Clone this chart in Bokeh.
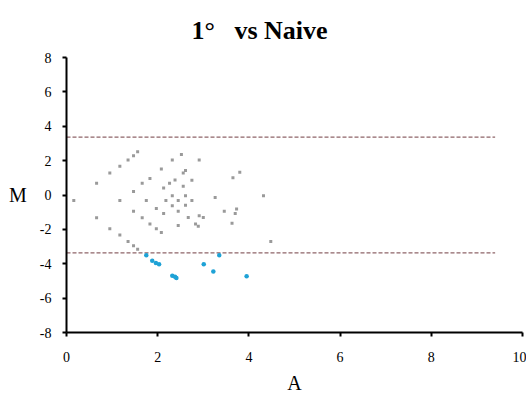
from bokeh.plotting import figure
from bokeh.models import FixedTicker, ColumnDataSource
from bokeh.embed import file_html
from bokeh.resources import INLINE

# Gray (non-significant) points: A, M
gray_A = [0.16, 0.66, 0.66, 0.95, 0.95, 1.17, 1.17, 1.17, 1.35, 1.35, 1.47, 1.47, 1.47, 1.47,
          1.56, 1.56, 1.66, 1.66, 1.75, 1.83, 1.83, 1.97, 1.97, 2.08, 2.08, 2.13, 2.13, 2.18,
          2.26, 2.32, 2.32, 2.32, 2.38, 2.45, 2.45, 2.45, 2.52, 2.56, 2.61, 2.56, 2.61, 2.61,
          2.67, 2.75, 2.75, 2.83, 2.89, 2.91, 2.91, 3.00, 3.26, 3.46, 3.63, 3.65, 3.73, 3.70,
          3.80, 4.32, 4.48]
gray_M = [-0.32, 0.68, -1.33, 1.28, -1.96, 1.67, -0.32, -2.32, 2.03, -2.70, 2.28, 0.20, -0.95, -2.95,
          2.51, -3.15, 0.68, -1.33, -0.32, 0.96, -1.69, -0.78, -1.96, 1.51, -2.18, 0.41, -1.07, -0.32,
          0.68, 2.03, -0.04, -0.62, 0.88, -0.32, -0.95, -1.77, 2.35, 1.28, 1.42, 0.51, -0.04, -0.60,
          -1.31, 0.86, -0.32, -1.69, -1.82, 2.03, -1.21, -1.31, -0.15, -0.95, -1.65, 1.01, -0.82, -1.07,
          1.33, -0.04, -2.70]

# Blue (significant) points
blue_A = [1.75, 1.88, 1.96, 2.03, 2.32, 2.38, 2.41, 3.01, 3.22, 3.35, 3.95]
blue_M = [-3.50, -3.82, -3.95, -4.03, -4.70, -4.75, -4.83, -4.03, -4.45, -3.50, -4.72]

# Threshold lines
thr_A = [0, 9.4]
thr_up = [3.37, 3.37]
thr_dn = [-3.37, -3.37]

x_ticks = [0, 2, 4, 6, 8, 10]
y_ticks = [-8, -6, -4, -2, 0, 2, 4, 6, 8]

SERIF = "Liberation Serif"

p = figure(width=526, height=396, x_range=(0, 10), y_range=(-8, 8),
           output_backend="svg", toolbar_location=None,
           min_border_left=66, min_border_right=4, min_border_top=54, min_border_bottom=63,
           title="1°\u00a0\u00a0\u00a0vs Naive")
p.title.text_font = SERIF
p.title.text_font_size = "26px"
p.title.text_font_style = "bold"
p.title.align = "left"
p.title.offset = 125
p.title.standoff = 26
p.title.text_color = "black"

p.outline_line_color = None
p.background_fill_color = "white"
p.border_fill_color = "white"
p.xgrid.visible = False
p.ygrid.visible = False

for ax in (p.xaxis[0], p.yaxis[0]):
    ax.axis_line_width = 2
    ax.axis_line_color = "black"
    ax.major_tick_line_width = 2
    ax.major_tick_line_color = "black"
    ax.major_tick_out = 4
    ax.major_tick_in = 0
    ax.minor_tick_line_color = None
    ax.major_label_text_font = SERIF
    ax.major_label_text_font_size = "14px"
    ax.major_label_text_color = "black"
    ax.axis_label_text_font = SERIF
    ax.axis_label_text_font_size = "20px"
    ax.axis_label_text_font_style = "normal"
    ax.axis_label_text_color = "black"

p.xaxis[0].ticker = FixedTicker(ticks=x_ticks)
p.yaxis[0].ticker = FixedTicker(ticks=y_ticks)
p.yaxis[0].major_label_overrides = {t: str(t) for t in y_ticks}
p.xaxis[0].axis_label = "A"
p.yaxis[0].axis_label = "M"
p.yaxis[0].axis_label_orientation = "horizontal"
p.xaxis[0].major_label_standoff = 15
p.xaxis[0].axis_label_standoff = 7
p.yaxis[0].major_label_standoff = 11
p.yaxis[0].axis_label_standoff = 10

p.line(thr_A, thr_up, line_color="#8e6468", line_dash="4 2", line_width=1.3)
p.line(thr_A, thr_dn, line_color="#8e6468", line_dash="4 2", line_width=1.3)

p.scatter(x="A", y="M", source=ColumnDataSource(dict(A=gray_A, M=gray_M)),
          marker="square", size=3, fill_color="#9a9a9a", line_color=None)
p.scatter(x="A", y="M", source=ColumnDataSource(dict(A=blue_A, M=blue_M)),
          marker="circle", size=4.5, fill_color="#1ea2d6", line_color=None)

open("out.html", "w").write(file_html(p, INLINE))
